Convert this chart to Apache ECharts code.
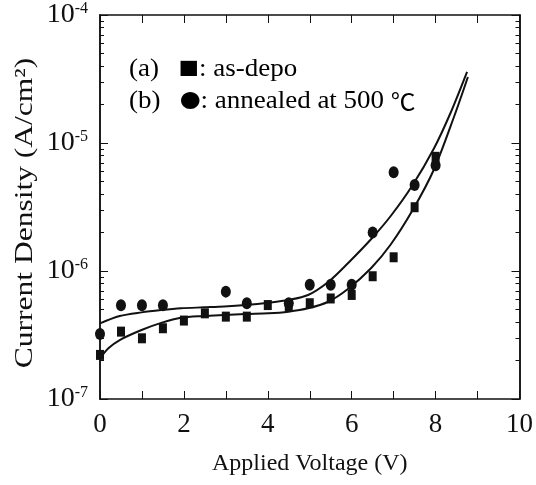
<!DOCTYPE html>
<html>

<head>
    <meta charset="utf-8">
    <title>Current Density</title>
    <script src="https://cdn.jsdelivr.net/npm/echarts@6/dist/echarts.min.js"></script>
    <style>
        html, body {
            margin: 0;
            padding: 0;
            background: #fff;
        }

        #main {
            width: 536px;
            height: 485px;
        }
    </style>
</head>

<body>
    <div id="main"></div>
    <script>
        // measured points, (a) as-depo squares
        var voltsA = [0, 0.5, 1, 1.5, 2, 2.5, 3, 3.5, 4, 4.5, 5, 5.5, 6, 6.5, 7, 7.5, 8];
        var asDepo = [2.21e-7, 3.36e-7, 2.98e-7, 3.57e-7, 4.1e-7, 4.67e-7, 4.4e-7, 4.4e-7, 5.42e-7, 5.26e-7,
            5.6e-7, 6.1e-7, 6.5e-7, 9.1e-7, 1.28e-6, 3.15e-6, 7.8e-6];

        // (b) annealed at 500 C circles
        var voltsB = [0, 0.5, 1, 1.5, 3, 3.5, 4.5, 5, 5.5, 6, 6.5, 7, 7.5, 8];
        var annealed = [3.22e-7, 5.4e-7, 5.4e-7, 5.4e-7, 6.9e-7, 5.6e-7, 5.6e-7, 7.8e-7, 7.8e-7, 7.8e-7,
            2.0e-6, 5.9e-6, 4.7e-6, 6.7e-6];

        // fitted curves
        var fitUpperX = [0, 0.47, 0.99, 1.46, 1.93, 2.48, 2.96, 3.47, 4.02, 4.49, 4.96, 5.44, 5.91, 6.46, 6.93, 7.45, 7.96, 8.35, 8.75];
        var fitUpperY = [3.9e-7, 4.45e-7, 4.75e-7, 4.95e-7, 5.11e-7, 5.2e-7, 5.28e-7, 5.42e-7, 5.65e-7, 5.93e-7,
            6.49e-7, 8.2e-7, 1.15e-6, 1.77e-6, 2.69e-6, 4.68e-6, 9.06e-6, 1.7e-5, 3.6e-5];
        var fitLowerX = [0, 0.2, 0.47, 0.99, 1.46, 1.93, 2.48, 2.96, 3.47, 4.02, 4.49, 4.96, 5.44, 5.91, 6.46, 6.93, 7.45, 7.96, 8.45, 8.77];
        var fitLowerY = [2.08e-7, 2.49e-7, 2.89e-7, 3.46e-7, 3.93e-7, 4.31e-7, 4.45e-7, 4.53e-7, 4.61e-7, 4.67e-7,
            4.81e-7, 5.11e-7, 5.75e-7, 7.23e-7, 1.05e-6, 1.61e-6, 2.98e-6, 6.21e-6, 1.64e-5, 3.28e-5];

        // axis ticks
        var xTicks = [0, 2, 4, 6, 8, 10];
        var yDecades = [1e-7, 1e-6, 1e-5, 1e-4];
        var yMinorTicks = [];
        for (var d = 0; d < 3; d++) {
            for (var m = 2; m <= 9; m++) {
                yMinorTicks.push(m * yDecades[d]);
            }
        }

        function zip(xs, ys) {
            return xs.map(function (x, i) { return [x, ys[i]]; });
        }

        var font = 'Liberation Serif';
        var cjk = 'Noto Sans CJK JP';
        var ink = '#111';

        var myChart = echarts.init(document.getElementById('main'));

        var baseX = {
            type: 'value',
            min: 0,
            max: 10,
            interval: 2,
            splitLine: { show: false },
            axisLine: { lineStyle: { color: ink, width: 1.5 } },
            axisTick: { inside: true, length: 8, lineStyle: { color: ink } },
            minorTick: { show: true, splitNumber: 2, length: 8, lineStyle: { color: ink } }
        };

        var baseY = {
            type: 'log',
            logBase: 10,
            min: 1e-7,
            max: 1e-4,
            splitLine: { show: false },
            axisLine: { lineStyle: { color: ink, width: 1.5 } }
        };

        var legendRich = {
            t: { fontFamily: font, fontSize: 25, color: ink },
            g: { width: 18 },
            m: { fontFamily: cjk, fontSize: 19, color: ink },
            c: { fontFamily: cjk, fontSize: 23, color: ink }
        };

        var option = {
            animation: false,
            grid: { left: 100, right: 13, top: 15, bottom: 86 },
            xAxis: [
                Object.assign({}, baseX, {
                    position: 'bottom',
                    name: 'Applied Voltage (V)',
                    nameLocation: 'middle',
                    nameGap: 53,
                    nameTextStyle: { fontFamily: font, fontSize: 24, color: ink },
                    axisLabel: {
                        customValues: xTicks,
                        fontFamily: font, fontSize: 27, color: ink, margin: 12
                    }
                }),
                Object.assign({}, baseX, {
                    position: 'top',
                    axisLabel: { show: false }
                })
            ],
            yAxis: [
                Object.assign({}, baseY, {
                    position: 'left',
                    axisTick: { inside: true, length: 8, customValues: yDecades, lineStyle: { color: ink } },
                    axisLabel: {
                        customValues: yDecades,
                        margin: 12,
                        formatter: function (v) {
                            return '{b|10}{s|' + Math.round(Math.log10(v)) + '}';
                        },
                        rich: {
                            b: { fontFamily: font, fontSize: 28, lineHeight: 28, color: ink },
                            s: { fontFamily: font, fontSize: 16, lineHeight: 16, color: ink, verticalAlign: 'top' }
                        }
                    }
                }),
                Object.assign({}, baseY, {
                    position: 'left',
                    axisLabel: { show: false },
                    axisTick: { inside: true, length: 4, customValues: yMinorTicks, lineStyle: { color: ink } }
                }),
                Object.assign({}, baseY, {
                    position: 'right',
                    axisLabel: { show: false },
                    axisTick: { inside: true, length: 8, customValues: yDecades, lineStyle: { color: ink } }
                }),
                Object.assign({}, baseY, {
                    position: 'right',
                    axisLabel: { show: false },
                    axisTick: { inside: true, length: 4, customValues: yMinorTicks, lineStyle: { color: ink } }
                })
            ],
            graphic: [
                {
                    type: 'text', x: 25, y: 213, rotation: Math.PI / 2, scaleX: 1.26,
                    style: {
                        text: 'Current Density (A/cm²)', fontFamily: font, fontSize: 25, fill: ink,
                        align: 'center', verticalAlign: 'middle'
                    }
                },
                {
                    type: 'text', x: 129, y: 69, scaleX: 1.08,
                    style: {
                        text: '{t|(a)}{g|}{m|■}{t|: as-depo}', rich: legendRich,
                        align: 'left', verticalAlign: 'middle'
                    }
                },
                {
                    type: 'text', x: 129, y: 101, scaleX: 1.08,
                    style: {
                        text: '{t|(b)}{g|}{m|●}{t|: annealed at 500 }{c|℃}', rich: legendRich,
                        align: 'left', verticalAlign: 'middle'
                    }
                }
            ],
            series: [
                {
                    name: 'fit (b)',
                    type: 'line',
                    data: zip(fitUpperX, fitUpperY),
                    smooth: 0.3,
                    showSymbol: false,
                    lineStyle: { color: ink, width: 2 }
                },
                {
                    name: 'fit (a)',
                    type: 'line',
                    data: zip(fitLowerX, fitLowerY),
                    smooth: 0.3,
                    showSymbol: false,
                    lineStyle: { color: ink, width: 2 }
                },
                {
                    name: 'as-depo',
                    type: 'scatter',
                    data: zip(voltsA, asDepo),
                    symbol: 'rect',
                    symbolSize: [8, 10],
                    itemStyle: { color: ink, opacity: 1 }
                },
                {
                    name: 'annealed at 500 ℃',
                    type: 'scatter',
                    data: zip(voltsB, annealed),
                    symbol: 'circle',
                    symbolSize: [10, 12],
                    itemStyle: { color: ink, opacity: 1 }
                }
            ]
        };

        option && myChart.setOption(option);
    </script>
</body>

</html>
